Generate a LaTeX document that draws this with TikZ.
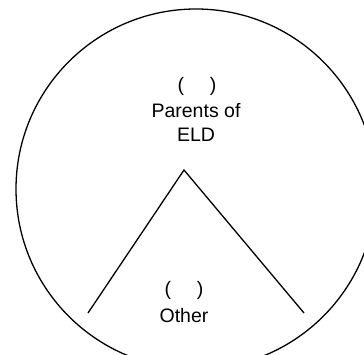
\documentclass[tikz,border=0pt]{standalone}
\usepackage{fontspec}
\setmainfont{Liberation Sans}
\begin{document}
\begin{tikzpicture}[x=1pt,y=-1pt,
  outline/.style={draw=black,line width=1.3pt},
  lbl/.style={inner sep=0pt,anchor=base,font=\fontsize{19.5}{23}\selectfont,text=black}]
\useasboundingbox (0,0) rectangle (364,355);
\node[outline,circle,minimum size=360pt,inner sep=0pt] (outer) at (196,189) {};
\coordinate (apex) at (184,170);
\coordinate (leftend) at (88,313);
\coordinate (rightend) at (304,313);
\draw[outline,line join=miter] (leftend) -- (apex) -- (rightend);
\node[lbl] (topparen) at (197,92) {(\hspace{26pt})};
\node[lbl] (parents) at (196,118) {Parents of};
\node[lbl] (eld) at (196,141.5) {ELD};
\node[lbl] (botparen) at (184,295) {(\hspace{26pt})};
\node[lbl] (other) at (184,322) {Other};
\end{tikzpicture}
\end{document}
